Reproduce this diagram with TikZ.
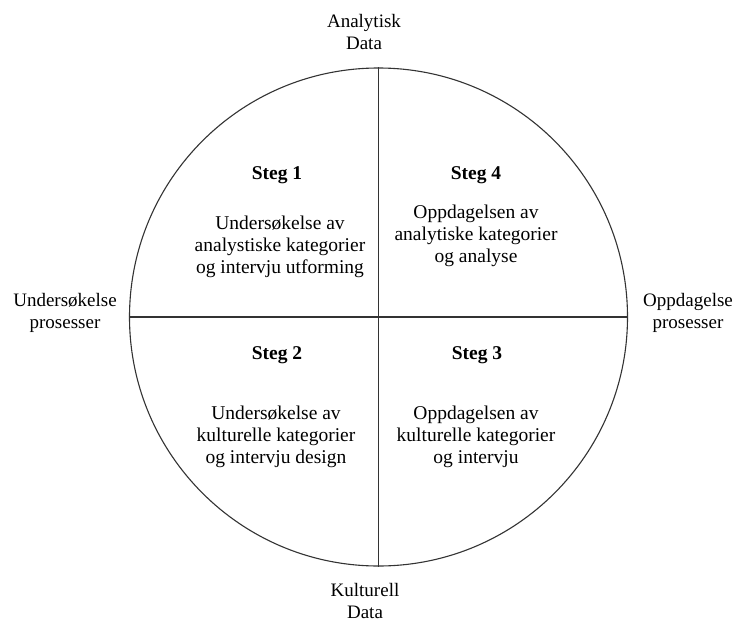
\documentclass[tikz,border=0pt]{standalone}
\usepackage{fontspec}
\setmainfont{Liberation Serif}
\begin{document}
\begin{tikzpicture}[x=1pt,y=-1pt,
  inner/.style={align=center,inner sep=0pt,font=\fontsize{19.5}{22}\selectfont},
  stegtxt/.style={inner sep=0pt,font=\fontsize{19.5}{22}\selectfont\bfseries},
  outer/.style={align=center,inner sep=0pt,font=\fontsize{19}{21.5}\selectfont},
  line/.style={draw=black!80,line width=1.1pt}]
\useasboundingbox (0,0) rectangle (736,621);
\fill[white] (0,0) rectangle (736,621);
\node[circle,draw=black!80,line width=1.1pt,minimum size=498pt,inner sep=0pt] (c) at (378.5,317) {};
\draw[line] (c.north) -- (c.south);
\draw[line] (c.west) -- (c.east);
\node[stegtxt] (s1) at (277,175) {Steg 1};
\node[stegtxt] (s4) at (476,175) {Steg 4};
\node[stegtxt] (s2) at (277,355) {Steg 2};
\node[stegtxt] (s3) at (477,355) {Steg 3};
\node[inner] (t1) at (280,247) {Undersøkelse av\\analystiske kategorier\\og intervju utforming};
\node[inner] (t4) at (476,236) {Oppdagelsen av\\analytiske kategorier\\og analyse};
\node[inner] (t2) at (276,437) {Undersøkelse av\\kulturelle kategorier\\og intervju design};
\node[inner] (t3) at (476,437) {Oppdagelsen av\\kulturelle kategorier\\og intervju};
\node[outer] (top) at (364,32) {Analytisk\\Data};
\node[outer] (bot) at (365,601) {Kulturell\\Data};
\node[outer] (lft) at (65,313) {Undersøkelse\\prosesser};
\node[outer] (rgt) at (688,313) {Oppdagelse\\prosesser};
\end{tikzpicture}
\end{document}
